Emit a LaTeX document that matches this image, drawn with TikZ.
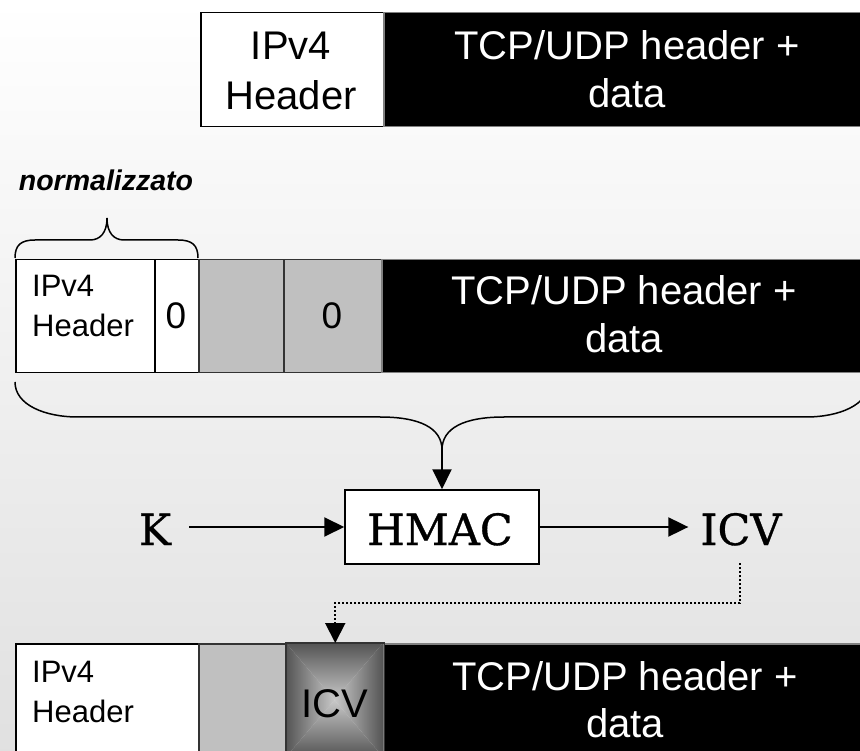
\documentclass[tikz,border=0pt]{standalone}
\usepackage{fontspec}
\setmainfont{Liberation Sans}
\newfontfamily\slabf[FakeBold=0.8]{DejaVu Serif}
\usetikzlibrary{arrows.meta}
\definecolor{boxgray}{RGB}{192,192,192}
\definecolor{icvdark}{RGB}{84,84,84}
\definecolor{icvlight}{RGB}{200,200,200}
\tikzset{
  cell/.style={rectangle, inner sep=0pt, anchor=north west, line width=1.5pt},
  wbox/.style={cell, draw=black, fill=white},
  gbox/.style={cell, draw=black!80, fill=boxgray},
  bbox/.style={cell, draw=gray, fill=black},
  txt/.style={inner sep=0pt, anchor=base},
  bigtxt/.style={txt, font=\fontsize{40}{48}\selectfont},
  wtxt/.style={bigtxt, text=white},
  smalltxt/.style={inner sep=0pt, anchor=base west, font=\fontsize{31}{37}\selectfont},
  monotxt/.style={txt, font=\slabf\fontsize{43}{50}\selectfont},
  arr/.style={line width=2pt, -{Triangle[length=20pt,width=19pt]}},
  dotline/.style={line width=2pt, dash pattern=on 2pt off 2pt, -{Triangle[length=20pt,width=20pt]}},
  bracestyle/.style={line width=1.5pt}
}
\begin{document}
\begin{tikzpicture}[x=1pt,y=-1pt]
\useasboundingbox (0,0) rectangle (860,751);
\clip (0,0) rectangle (860,751);
\shade[top color=white, bottom color=black!12] (0,0) rectangle (860,751);

% ---- row 1
\node[wbox, minimum width=183pt, minimum height=114pt] (h1) at (200,12) {};
\node[bbox, minimum width=490pt, minimum height=114pt] (d1) at (383,12) {};
\node[bigtxt] (h1a) at (291,60) {IPv4};
\node[bigtxt] (h1b) at (291,110) {Header};
\node[wtxt] (d1a) at (627,60) {TCP/UDP header +};
\node[wtxt] (d1b) at (627,108) {data};

% ---- label and brace
\node[txt, font=\bfseries\itshape\fontsize{28.5}{34}\selectfont] (norm) at (106,191) {normalizzato};
\draw[bracestyle] (15,258) .. controls (15,245) and (21,240) .. (35,240) -- (90,240)
  .. controls (100,240) and (107,233) .. (107,218)
  .. controls (107,233) and (114,240) .. (124,240) -- (178,240)
  .. controls (192,240) and (198,245) .. (198,258);

% ---- row 2
\node[wbox, minimum width=139pt, minimum height=113pt] (h2) at (15,259) {};
\node[wbox, minimum width=44pt, minimum height=113pt] (z2) at (154,259) {};
\node[gbox, minimum width=85pt, minimum height=113pt] (g2) at (198,259) {};
\node[gbox, minimum width=98pt, minimum height=113pt] (g2b) at (283,259) {};
\node[bbox, minimum width=490pt, minimum height=113pt] (d2) at (381,259) {};
\node[smalltxt] (h2a) at (32,297) {IPv4};
\node[smalltxt] (h2b) at (32,337) {Header};
\node[txt, font=\fontsize{37}{44}\selectfont] (z2t) at (176,329) {0};
\node[txt, font=\fontsize{37}{44}\selectfont] (g2bt) at (332,329) {0};
\node[wtxt] (d2a) at (624,305) {TCP/UDP header +};
\node[wtxt] (d2b) at (624,353) {data};

% ---- big brace
\draw[bracestyle] (15,382) .. controls (15,405) and (45,417) .. (78,417) -- (380,417)
  .. controls (420,417) and (442,428) .. (442,450)
  .. controls (442,428) and (464,417) .. (504,417) -- (806,417)
  .. controls (839,417) and (869,405) .. (869,382);
\coordinate (tip) at (442,450);

% ---- HMAC line
\node[wbox, anchor=center, minimum width=194pt, minimum height=74pt] (hmac) at (442,527) {};
\node[monotxt] (hmact) at (440,545) {HMAC};
\node[monotxt] (K) at (155,545) {K};
\node[monotxt] (icv) at (741,545) {ICV};
\draw[arr] ([xshift=18pt]K.east |- hmac.west) -- (hmac.west);
\draw[arr] (tip) -- (hmac.north);
\draw[arr] (hmac.east) -- ([xshift=-12pt]hmac.east -| icv.west);

% ---- row 3
\node[wbox, minimum width=183pt, minimum height=114pt] (h3) at (15,643) {};
\node[gbox, minimum width=88pt, minimum height=114pt] (g3) at (198,643) {};
\node[bbox, minimum width=490pt, minimum height=114pt] (d3) at (383,643) {};
\node[cell, minimum width=97pt, minimum height=114pt] (icvbox) at (286,643) {};
\begin{scope}
  \clip (286,643) -- (383,643) -- (334.5,700) -- cycle;
  \shade[top color=icvdark, bottom color=icvlight] (286,643) rectangle (383,700);
\end{scope}
\begin{scope}
  \clip (286,757) -- (383,757) -- (334.5,700) -- cycle;
  \shade[top color=icvlight, bottom color=icvdark] (286,700) rectangle (383,757);
\end{scope}
\begin{scope}
  \clip (286,643) -- (286,757) -- (334.5,700) -- cycle;
  \shade[left color=icvdark, right color=icvlight] (286,643) rectangle (334.5,757);
\end{scope}
\begin{scope}
  \clip (383,643) -- (383,757) -- (334.5,700) -- cycle;
  \shade[left color=icvlight, right color=icvdark] (334.5,643) rectangle (383,757);
\end{scope}
\draw[line width=1.5pt, black!80] (icvbox.north west) rectangle (icvbox.south east);
\node[smalltxt] (h3a) at (32,682) {IPv4};
\node[smalltxt] (h3b) at (32,722) {Header};
\node[txt, font=\fontsize{40}{48}\selectfont] (icvt) at (334.5,717) {ICV};
\node[wtxt] (d3a) at (625,690) {TCP/UDP header +};
\node[wtxt] (d3b) at (625,737) {data};

% ---- dotted connector
\coordinate (dstart) at (740,563);
\draw[dotline] (dstart) -- (740,603) -| (icvbox.north);
\end{tikzpicture}
\end{document}
